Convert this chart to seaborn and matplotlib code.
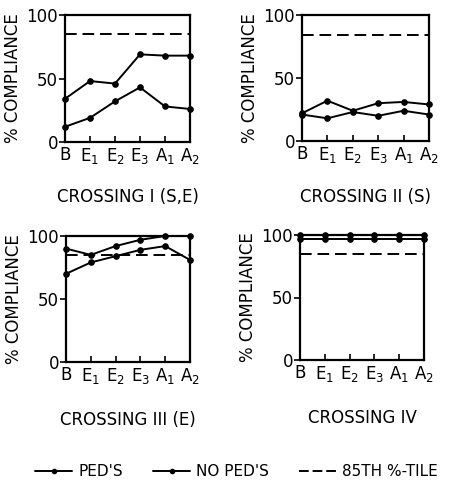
import matplotlib
matplotlib.use("Agg")
import matplotlib.pyplot as plt
import seaborn as sns
import pandas as pd
from matplotlib.lines import Line2D

sns.set_style("ticks")
plt.rcParams['font.family'] = ['DejaVu Sans']
plt.rcParams.update({"text.color": "black", "axes.labelcolor": "black",
                     "xtick.color": "black", "ytick.color": "black"})

stages = ["B", "E$_1$", "E$_2$", "E$_3$", "A$_1$", "A$_2$"]
titles = ["CROSSING I (S,E)", "CROSSING II (S)", "CROSSING III (E)", "CROSSING IV"]

peds = [
    [34, 48, 46, 69, 68, 68],
    [22, 32, 24, 30, 31, 29],
    [90, 85, 92, 97, 100, 100],
    [100, 100, 100, 100, 100, 100],
]
no_peds = [
    [12, 19, 32, 43, 28, 26],
    [21, 18, 23, 20, 24, 21],
    [70, 79, 84, 89, 92, 81],
    [97, 97, 97, 97, 97, 97],
]
pct85 = [85, 84, 85, 85]
yticks = [0, 50, 100]

W, H = 455, 496
fig = plt.figure(figsize=(W / 100, H / 100), dpi=100)
boxes = [(65, 190, 15, 142), (302, 429, 15, 141), (66, 190, 236, 362), (300, 424, 235, 360)]
title_y = [197, 197, 420, 418]

for i, (l, r, t, b) in enumerate(boxes):
    ax = fig.add_axes([l / W, 1 - b / H, (r - l) / W, (b - t) / H])
    df = pd.DataFrame({"x": range(len(stages)), "ped": peds[i], "noped": no_peds[i]})
    for col in ["ped", "noped"]:
        sns.lineplot(data=df, x="x", y=col, ax=ax, color="black", marker="o",
                     markersize=4, linewidth=1.4, markeredgecolor="black", clip_on=False)
    ax.axhline(pct85[i], color="black", linestyle=(0, (6, 3)), linewidth=1.4)
    ax.set_xlim(0, len(stages) - 1)
    ax.set_ylim(0, 100)
    ax.set_xticks(range(len(stages)))
    ax.set_xticklabels(stages, fontsize=12)
    ax.set_yticks(yticks)
    ax.set_yticklabels([str(v) for v in yticks], fontsize=12)
    ax.tick_params(axis="x", direction="in", length=4, width=1.2, pad=3)
    ax.tick_params(axis="y", direction="out", length=4, width=1.2, pad=1)
    ax.set_xlabel("")
    ax.set_ylabel("% COMPLIANCE", fontsize=12, labelpad=3)
    for s in ax.spines.values():
        s.set_visible(True)
        s.set_color("black")
        s.set_linewidth(1.6)
    fig.text((l + r) / 2 / W, 1 - title_y[i] / H, titles[i], ha="center", va="center", fontsize=12)

handles = [
    Line2D([0], [0], color="black", marker="o", markersize=3, linewidth=1.4),
    Line2D([0], [0], color="black", marker="o", markersize=3, linewidth=1.4),
    Line2D([0], [0], color="black", linestyle=(0, (5, 2)), linewidth=1.4),
]
fig.legend(handles, ["PED'S", "NO PED'S", "85TH %-TILE"], loc="center",
           bbox_to_anchor=(0.52, 1 - 472 / H), ncol=3, frameon=False, fontsize=11,
           handlelength=2.4, handletextpad=0.4, columnspacing=2.0)

fig.savefig("out.png", dpi=100)
